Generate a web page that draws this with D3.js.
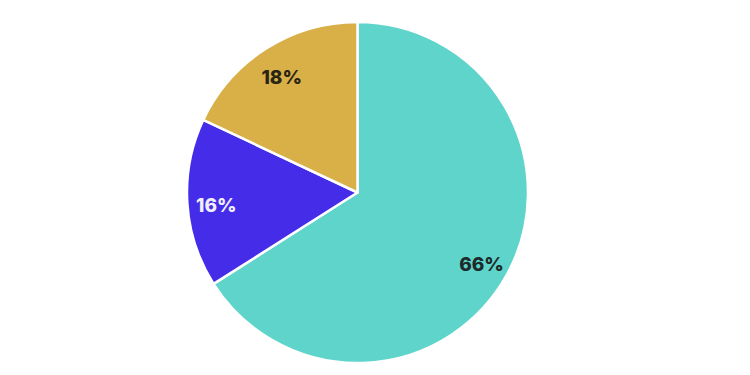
<!DOCTYPE html>
<html><head><meta charset="utf-8">
<script src="https://cdn.jsdelivr.net/npm/d3@7"></script>
<style>html,body{margin:0;padding:0;background:#fff;}</style>
</head><body>
<svg id="c" width="750" height="375"></svg>
<script>
const categories = ["A", "B", "C"];
const values = [66, 16, 18];
const labels = ["66%", "16%", "18%"];
const colors = ["#5fd4ca", "#442ce9", "#d9b048"];
const labelColors = ["#1d2a2a", "#f0eef8", "#2a2414"];

const svg = d3.select("#c");
const cx = 357.5, cy = 192.5, r = 170.5;
const g = svg.append("g").attr("transform", `translate(${cx},${cy})`);
const pie = d3.pie().sort(null).value(d => d)(values);
const arc = d3.arc().innerRadius(0).outerRadius(r);
const labelArc = d3.arc().innerRadius(r * 0.83).outerRadius(r * 0.83);
g.selectAll("path").data(pie).join("path")
  .attr("d", arc).attr("fill", (d, i) => colors[i])
  .attr("stroke", "#fff").attr("stroke-width", 2.5).attr("stroke-linejoin", "round");
g.selectAll("text").data(pie).join("text")
  .attr("transform", d => { const [x, y] = labelArc.centroid(d); return `translate(${x},${y + 4})`; })
  .attr("text-anchor", "middle").attr("dominant-baseline", "central")
  .attr("font-family", "Inter, Lato, sans-serif").attr("font-weight", 800)
  .attr("font-size", 19).attr("fill", (d, i) => labelColors[i])
  .text((d, i) => labels[i]);
</script>
</body></html>
